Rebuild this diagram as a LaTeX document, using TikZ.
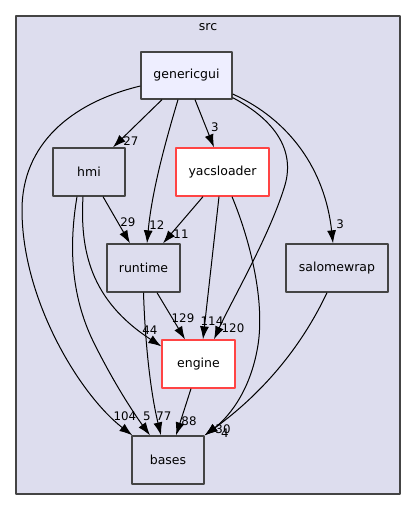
\documentclass[tikz,border=0pt]{standalone}
\usepackage{fontspec}
\setmainfont{DejaVu Sans}
\usepackage{tikz}
\usetikzlibrary{arrows.meta,shapes}

\definecolor{clustfill}{HTML}{DDDDEE}
\definecolor{clustline}{HTML}{444444}
\definecolor{mainfill}{HTML}{EEEEFF}
\definecolor{redline}{HTML}{FF4444}

\tikzset{
  dirnode/.style={draw=clustline, line width=1.3pt, fill=clustfill, inner sep=0pt,
    font=\fontsize{12.5}{15}\selectfont},
  maindir/.style={dirnode, fill=mainfill},
  bigdir/.style={dirnode, draw=redline, fill=white},
  elabel/.style={inner sep=0pt, font=\fontsize{11.8}{14}\selectfont},
}

\begin{document}
\begin{tikzpicture}[>={Latex[length=13pt,width=9pt]},x=1pt,y=-1pt,line join=bevel]
  \useasboundingbox (0,0) rectangle (416,511);
%%
  % Cluster: src
  \draw[clustline, line width=1.3pt, fill=clustfill] (16,16) rectangle (400,494);
  \node[elabel, font=\fontsize{12.5}{15}\selectfont] (src) at (208,27) {src};
  % Node: genericgui
  \node[maindir, minimum width=91pt, minimum height=47pt] (genericgui) at (186.5,75.5) {genericgui};
  % Node: hmi
  \node[dirnode, minimum width=72pt, minimum height=48pt] (hmi) at (89,172) {hmi};
  % Node: yacsloader
  \node[bigdir, minimum width=93pt, minimum height=48pt] (yacsloader) at (222.5,172) {yacsloader};
  % Node: runtime
  \node[dirnode, minimum width=73pt, minimum height=48pt] (runtime) at (143.5,268) {runtime};
  % Node: salomewrap
  \node[dirnode, minimum width=102pt, minimum height=48pt] (salomewrap) at (337,268) {salomewrap};
  % Node: engine
  \node[bigdir, minimum width=73pt, minimum height=48pt] (engine) at (198.5,364) {engine};
  % Node: bases
  \node[dirnode, minimum width=72pt, minimum height=48pt] (bases) at (168,460) {bases};
%%
\begin{scope}[line width=1pt]
  % Edge: genericgui -> hmi
  \draw [->] ([xshift=-24.5pt]genericgui.south) -- ([xshift=24pt]hmi.north);
  \node[elabel] (l-gen-hmi) at (131,141) {27};
  % Edge: genericgui -> runtime
  \draw [->] ([xshift=-8.5pt]genericgui.south) .. controls (166,140) and (152,190) .. ([xshift=3.5pt]runtime.north);
  \node[elabel] (l-gen-run) at (157,225) {12};
  % Edge: genericgui -> yacsloader
  \draw [->] ([xshift=8.5pt]genericgui.south) -- ([xshift=-8.5pt]yacsloader.north);
  \node[elabel] (l-gen-yac) at (215,127) {3};
  % Edge: genericgui -> engine
  \draw [->] ([yshift=2pt]genericgui.south east) .. controls (275,120) and (295,150) .. (285,185) .. controls (270,235) and (232,300) .. ([xshift=15.5pt]engine.north);
  \node[elabel] (l-gen-eng) at (233,328) {120};
  % Edge: genericgui -> salomewrap
  \draw [->] ([yshift=-18.5pt]genericgui.east) .. controls (290,120) and (325,170) .. ([xshift=-4pt]salomewrap.north);
  \node[elabel] (l-gen-sal) at (340,224) {3};
  % Edge: genericgui -> bases
  \draw [->] ([yshift=-10.5pt]genericgui.west) .. controls (70,103) and (22,145) .. (22,210) .. controls (22,300) and (80,395) .. ([xshift=1pt]bases.north west);
  \node[elabel] (l-gen-bas) at (125,416) {104};
  % Edge: hmi -> runtime
  \draw [->] ([xshift=14pt]hmi.south) -- ([xshift=-13.5pt]runtime.north);
  \node[elabel] (l-hmi-run) at (128,222) {29};
  % Edge: hmi -> engine
  \draw [->] ([xshift=-6pt]hmi.south) .. controls (80,250) and (90,300) .. ([yshift=-7pt]engine.north west);
  \node[elabel] (l-hmi-eng) at (150,330) {44};
  % Edge: hmi -> bases
  \draw [->] ([xshift=-12pt]hmi.south) .. controls (68,250) and (72,300) .. (95,345) .. controls (115,385) and (135,415) .. ([xshift=-18pt]bases.north);
  \node[elabel] (l-hmi-bas) at (147,416) {5};
  % Edge: yacsloader -> runtime
  \draw [->] ([xshift=-19.5pt]yacsloader.south) -- ([xshift=19.5pt]runtime.north);
  \node[elabel] (l-yac-run) at (181,234) {11};
  % Edge: yacsloader -> engine
  \draw [->] ([xshift=-3.5pt]yacsloader.south) -- ([xshift=4.5pt]engine.north);
  \node[elabel] (l-yac-eng) at (212,321) {114};
  % Edge: yacsloader -> bases
  \draw [->] ([xshift=9.5pt]yacsloader.south) .. controls (250,240) and (265,300) .. (258,345) .. controls (250,395) and (225,420) .. (bases.north east);
  \node[elabel] (l-yac-bas) at (225,433) {4};
  % Edge: runtime -> engine
  \draw [->] ([xshift=13.5pt]runtime.south) -- ([xshift=-13.5pt]engine.north);
  \node[elabel] (l-run-eng) at (183,318) {129};
  % Edge: runtime -> bases
  \draw [->] (runtime.south) .. controls (145,340) and (150,390) .. ([xshift=-7pt]bases.north);
  \node[elabel] (l-run-bas) at (164,416) {77};
  % Edge: engine -> bases
  \draw [->] ([xshift=-7.5pt]engine.south) -- ([xshift=8pt]bases.north);
  \node[elabel] (l-eng-bas) at (189,421) {88};
  % Edge: salomewrap -> bases
  \draw [->] ([xshift=-10pt]salomewrap.south) .. controls (300,350) and (260,395) .. (bases.north east);
  \node[elabel] (l-sal-bas) at (223,429) {30};
\end{scope}
%
\end{tikzpicture}
\end{document}
